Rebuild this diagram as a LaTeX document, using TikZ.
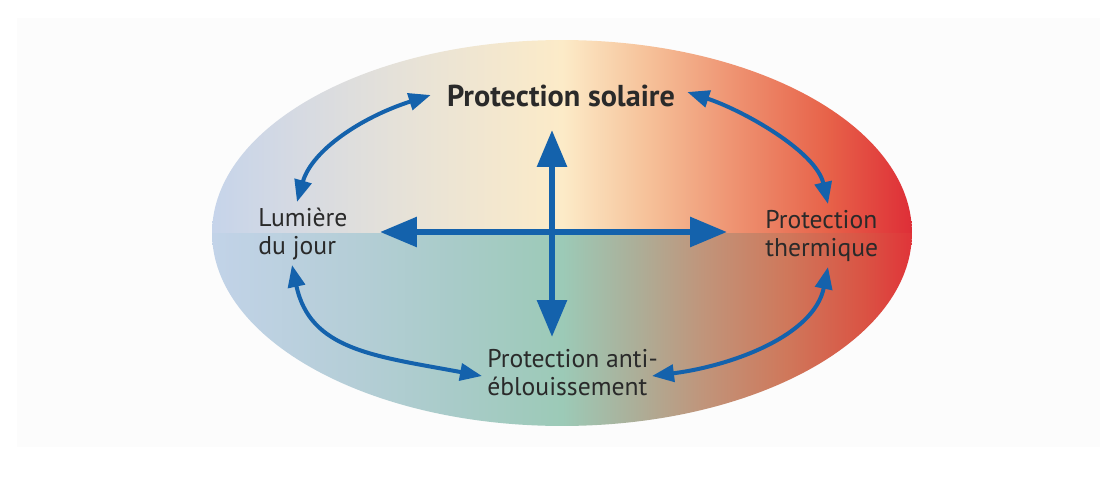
\documentclass[tikz,border=0pt]{standalone}
\usepackage{fontspec}
\setmainfont{PT Sans}
\usetikzlibrary{arrows.meta,calc}
\definecolor{arrowblue}{HTML}{1462AC}
\definecolor{txt}{HTML}{2A2A2A}
\definecolor{pagebg}{HTML}{FCFCFC}
% top half stops
\definecolor{ta}{HTML}{C6D4EA}
\definecolor{tb}{HTML}{D6DAE2}
\definecolor{tc}{HTML}{E9E3D6}
\definecolor{td}{HTML}{FCEBC8}
\definecolor{te}{HTML}{F6C29A}
\definecolor{tf}{HTML}{EE9170}
\definecolor{tg}{HTML}{E76249}
\definecolor{th}{HTML}{DE2E37}
% bottom half stops
\definecolor{ba}{HTML}{C2D3E8}
\definecolor{bb}{HTML}{B5CED7}
\definecolor{bc}{HTML}{A8CBC8}
\definecolor{bd}{HTML}{9CCAB7}
\definecolor{be}{HTML}{ABB09A}
\definecolor{bf}{HTML}{C0957B}
\definecolor{bg}{HTML}{CF785B}
\definecolor{bh}{HTML}{DA5444}
\definecolor{bi}{HTML}{E03439}
\pgfdeclarehorizontalshading{topshade}{100bp}{color(0bp)=(ta); color(25bp)=(ta); color(31.25bp)=(tb); color(40bp)=(tc); color(50bp)=(td); color(56bp)=(te); color(62.5bp)=(tf); color(69bp)=(tg); color(75bp)=(th); color(100bp)=(th)}
\pgfdeclarehorizontalshading{bottomshade}{100bp}{color(0bp)=(ba); color(25bp)=(ba); color(35bp)=(bb); color(42.5bp)=(bc); color(50bp)=(bd); color(55bp)=(be); color(60bp)=(bf); color(66bp)=(bg); color(71.5bp)=(bh); color(75bp)=(bi); color(100bp)=(bi)}
\tikzset{
  lbl/.style={font=\fontsize{14.6}{15.9}\selectfont, text=txt, inner sep=0pt, align=left},
  titlelbl/.style={font=\fontsize{17.2}{19}\selectfont\bfseries, text=txt, inner sep=0pt},
  bigarrow/.style={draw=arrowblue, line width=0.12cm,
    {Triangle[length=0.74cm,width=0.58cm]}-{Triangle[length=0.74cm,width=0.58cm]}},
  curvearrow/.style={draw=arrowblue, line width=0.08cm,
    {Triangle[length=0.44cm,width=0.34cm]}-{Triangle[length=0.44cm,width=0.34cm]}}
}
\begin{document}
\begin{tikzpicture}[x=0.02cm,y=-0.02cm]
\useasboundingbox (0,0) rectangle (1120,477);
\fill[white] (0,0) rectangle (1120,477);
\fill[pagebg] (17,18) rectangle (1100,447);
\begin{scope}
  \clip (562,233) ellipse [x radius=7cm, y radius=3.86cm];
  \shade[shading=topshade] (212,38) rectangle (912,233);
  \shade[shading=bottomshade] (212,233) rectangle (912,429);
\end{scope}
% labels (base = baseline of the last line)
\node[titlelbl, anchor=base] (sol) at (561,106) {Protection solaire};
\node[lbl, anchor=base west] (lum) at (258,254) {Lumière\\du jour};
\node[lbl, anchor=base west] (therm) at (765,256) {Protection\\thermique};
\node[lbl, anchor=base west] (anti) at (487,395) {Protection anti-\\éblouissement};
% central cross
\coordinate (up) at (552,130);
\coordinate (down) at (552,337);
\coordinate (left) at (380,232);
\coordinate (right) at (727,232);
\draw[bigarrow] (left) -- (right);
\draw[bigarrow] (up) -- (down);
% curved arrows
\draw[curvearrow] ($(lum.base west)+(39,-52)$) .. controls (312,150) and (362,117) .. ($(sol.base west)+(-16,-11)$);
\draw[curvearrow] ($(sol.base east)+(12,-14)$) .. controls (742,110) and (816,151) .. ($(therm.base west)+(63,-52)$);
\draw[curvearrow] ($(lum.base west)+(34,11)$) .. controls (310,350) and (374,356) .. ($(anti.base west)+(-5,-19)$);
\draw[curvearrow] ($(anti.base west)+(165,-19)$) .. controls (731,366) and (814,336) .. ($(therm.base west)+(63,11)$);
\end{tikzpicture}
\end{document}
